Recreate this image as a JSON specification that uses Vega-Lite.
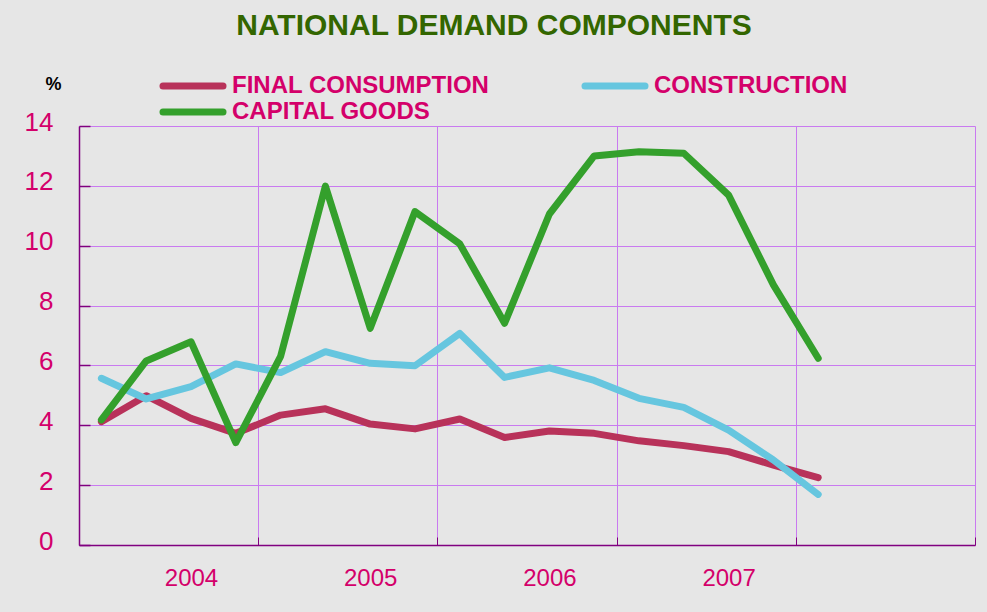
{
  "$schema": "https://vega.github.io/schema/vega-lite/v6.json",
  "width": 896,
  "height": 419,
  "autosize": {"type": "none"},
  "padding": {"left": 79, "top": 126, "right": 12, "bottom": 67},
  "background": "#e6e6e6",
  "title": {
    "text": "NATIONAL DEMAND COMPONENTS",
    "font": "Liberation Sans",
    "fontSize": 30,
    "fontWeight": "bold",
    "color": "#336600",
    "anchor": "middle",
    "frame": "group",
    "dx": -33,
    "baseline": "alphabetic",
    "offset": 9
  },
  "config": {"view": {"stroke": null}},
  "data": {
    "values": [
      {"t": 2004.125, "series": "FINAL CONSUMPTION", "value": 4.12},
      {"t": 2004.375, "series": "FINAL CONSUMPTION", "value": 4.99},
      {"t": 2004.625, "series": "FINAL CONSUMPTION", "value": 4.23},
      {"t": 2004.875, "series": "FINAL CONSUMPTION", "value": 3.73},
      {"t": 2005.125, "series": "FINAL CONSUMPTION", "value": 4.34},
      {"t": 2005.375, "series": "FINAL CONSUMPTION", "value": 4.55},
      {"t": 2005.625, "series": "FINAL CONSUMPTION", "value": 4.04},
      {"t": 2005.875, "series": "FINAL CONSUMPTION", "value": 3.88},
      {"t": 2006.125, "series": "FINAL CONSUMPTION", "value": 4.21},
      {"t": 2006.375, "series": "FINAL CONSUMPTION", "value": 3.59},
      {"t": 2006.625, "series": "FINAL CONSUMPTION", "value": 3.81},
      {"t": 2006.875, "series": "FINAL CONSUMPTION", "value": 3.73},
      {"t": 2007.125, "series": "FINAL CONSUMPTION", "value": 3.48},
      {"t": 2007.375, "series": "FINAL CONSUMPTION", "value": 3.32},
      {"t": 2007.625, "series": "FINAL CONSUMPTION", "value": 3.12},
      {"t": 2007.875, "series": "FINAL CONSUMPTION", "value": 2.67},
      {"t": 2008.125, "series": "FINAL CONSUMPTION", "value": 2.25},
      {"t": 2004.125, "series": "CONSTRUCTION", "value": 5.57},
      {"t": 2004.375, "series": "CONSTRUCTION", "value": 4.88},
      {"t": 2004.625, "series": "CONSTRUCTION", "value": 5.29},
      {"t": 2004.875, "series": "CONSTRUCTION", "value": 6.05},
      {"t": 2005.125, "series": "CONSTRUCTION", "value": 5.76},
      {"t": 2005.375, "series": "CONSTRUCTION", "value": 6.46},
      {"t": 2005.625, "series": "CONSTRUCTION", "value": 6.07},
      {"t": 2005.875, "series": "CONSTRUCTION", "value": 5.99},
      {"t": 2006.125, "series": "CONSTRUCTION", "value": 7.07},
      {"t": 2006.375, "series": "CONSTRUCTION", "value": 5.6},
      {"t": 2006.625, "series": "CONSTRUCTION", "value": 5.92},
      {"t": 2006.875, "series": "CONSTRUCTION", "value": 5.5},
      {"t": 2007.125, "series": "CONSTRUCTION", "value": 4.9},
      {"t": 2007.375, "series": "CONSTRUCTION", "value": 4.6},
      {"t": 2007.625, "series": "CONSTRUCTION", "value": 3.84},
      {"t": 2007.875, "series": "CONSTRUCTION", "value": 2.84},
      {"t": 2008.125, "series": "CONSTRUCTION", "value": 1.69},
      {"t": 2004.125, "series": "CAPITAL GOODS", "value": 4.18},
      {"t": 2004.375, "series": "CAPITAL GOODS", "value": 6.15},
      {"t": 2004.625, "series": "CAPITAL GOODS", "value": 6.79},
      {"t": 2004.875, "series": "CAPITAL GOODS", "value": 3.42},
      {"t": 2005.125, "series": "CAPITAL GOODS", "value": 6.3},
      {"t": 2005.375, "series": "CAPITAL GOODS", "value": 11.99},
      {"t": 2005.625, "series": "CAPITAL GOODS", "value": 7.24},
      {"t": 2005.875, "series": "CAPITAL GOODS", "value": 11.14},
      {"t": 2006.125, "series": "CAPITAL GOODS", "value": 10.06},
      {"t": 2006.375, "series": "CAPITAL GOODS", "value": 7.41},
      {"t": 2006.625, "series": "CAPITAL GOODS", "value": 11.06},
      {"t": 2006.875, "series": "CAPITAL GOODS", "value": 13.0},
      {"t": 2007.125, "series": "CAPITAL GOODS", "value": 13.14},
      {"t": 2007.375, "series": "CAPITAL GOODS", "value": 13.09},
      {"t": 2007.625, "series": "CAPITAL GOODS", "value": 11.69},
      {"t": 2007.875, "series": "CAPITAL GOODS", "value": 8.69},
      {"t": 2008.125, "series": "CAPITAL GOODS", "value": 6.24}
    ]
  },
  "mark": {"type": "line", "strokeWidth": 7, "strokeCap": "round", "strokeJoin": "round"},
  "encoding": {
    "x": {
      "field": "t",
      "type": "quantitative",
      "scale": {"domain": [2004, 2009], "nice": false, "zero": false},
      "axis": {
        "title": null,
        "values": [2004, 2004.625, 2005, 2005.625, 2006, 2006.625, 2007, 2007.625, 2008, 2009],
        "labelExpr": "datum.value % 1 > 0.1 ? '' + floor(datum.value) : ''",
        "grid": true,
        "gridColor": "#c97af0",
        "gridWidth": 1,
        "gridOpacity": {"condition": {"test": "datum.value % 1 > 0.1", "value": 0}, "value": 1},
        "tickOpacity": {"condition": {"test": "datum.value % 1 > 0.1", "value": 0}, "value": 1},
        "tickSize": -8,
        "tickColor": "#800080",
        "domainColor": "#800080",
        "domainWidth": 1.5,
        "labelColor": "#d4006a",
        "labelFont": "Liberation Sans",
        "labelFontSize": 24,
        "labelPadding": 29,
        "labelFlush": false,
        "labelOverlap": false,
        "labelBound": false
      }
    },
    "y": {
      "field": "value",
      "type": "quantitative",
      "scale": {"domain": [0, 14], "nice": false},
      "axis": {
        "title": "%",
        "titleAngle": 0,
        "titleX": -26,
        "titleY": -37,
        "titleAlign": "center",
        "titleBaseline": "alphabetic",
        "titleFont": "Liberation Sans",
        "titleFontSize": 18,
        "titleFontWeight": "bold",
        "titleColor": "#000000",
        "values": [0, 2, 4, 6, 8, 10, 12, 14],
        "grid": true,
        "gridColor": "#c97af0",
        "gridWidth": 1,
        "tickSize": -11,
        "tickColor": "#800080",
        "tickWidth": 1.5,
        "domainColor": "#800080",
        "domainWidth": 1.5,
        "labelColor": "#d4006a",
        "labelFont": "Liberation Sans",
        "labelFontSize": 26,
        "labelPadding": 37,
        "labelOffset": -4,
        "labelFlush": false,
        "labelOverlap": false
      }
    },
    "color": {
      "field": "series",
      "type": "nominal",
      "scale": {
        "domain": ["FINAL CONSUMPTION", "CAPITAL GOODS", "CONSTRUCTION"],
        "range": ["#b8325a", "#34a02c", "#66c6df"]
      },
      "legend": {
        "title": null,
        "orient": "none",
        "legendX": 102,
        "legendY": -52,
        "columns": 2,
        "symbolType": "M-6,0H6",
        "symbolSize": 100,
        "symbolStrokeWidth": 7,
        "labelFont": "Liberation Sans",
        "labelFontSize": 24,
        "labelFontWeight": "bold",
        "labelColor": "#d4006a",
        "labelOffset": 27,
        "labelLimit": 0,
        "columnPadding": 81,
        "rowPadding": -5,
        "padding": 0,
        "encode": {"symbols": {"update": {"strokeCap": {"value": "round"}}}}
      }
    }
  }
}
